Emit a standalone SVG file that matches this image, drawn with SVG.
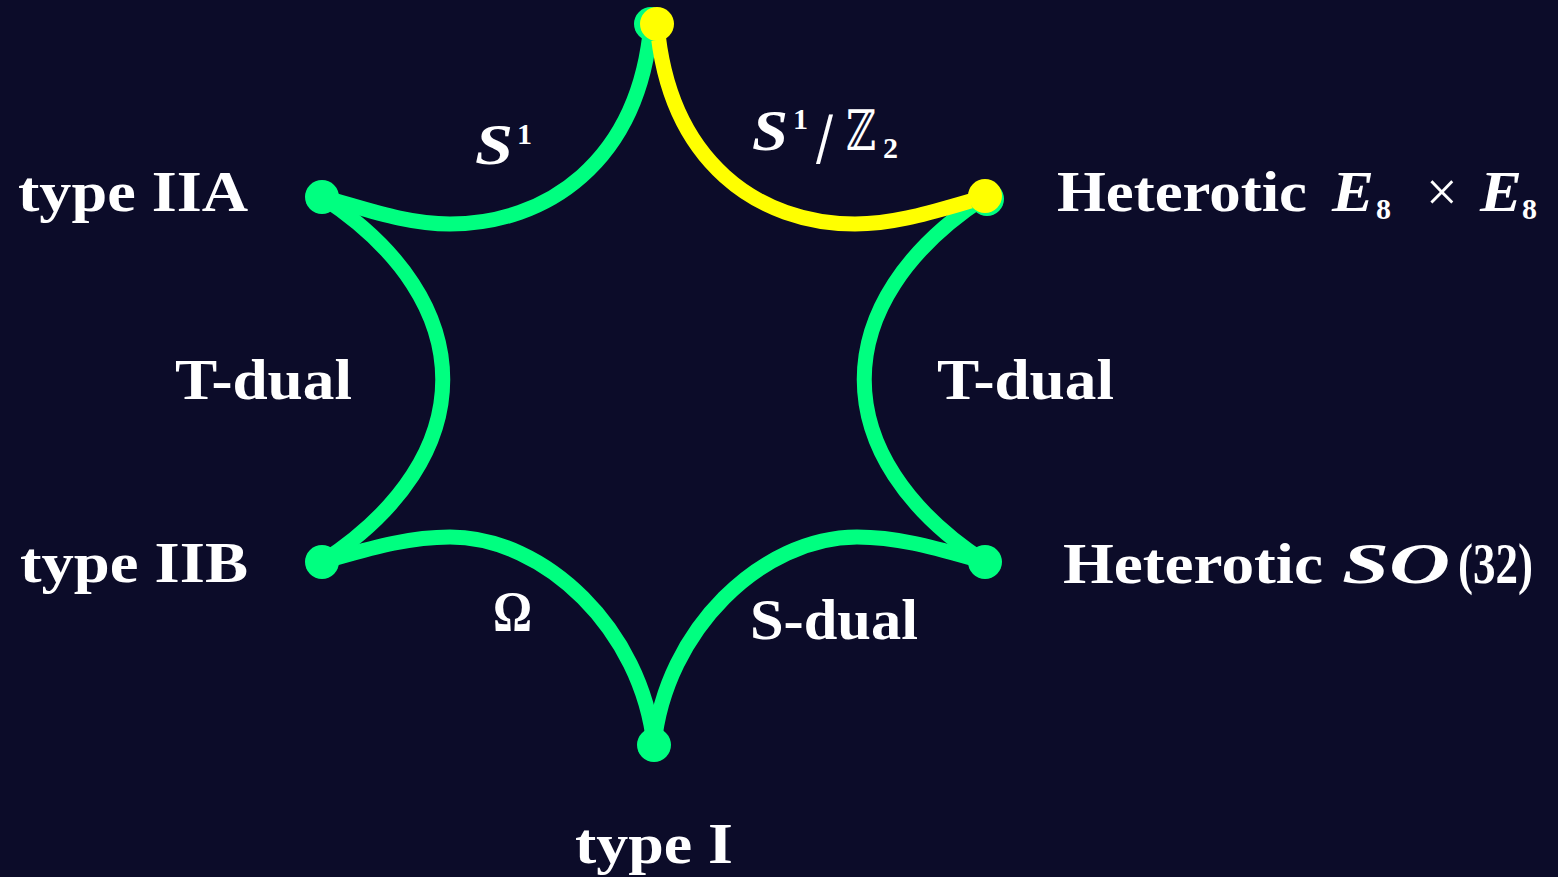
<svg xmlns="http://www.w3.org/2000/svg" width="1558" height="877" viewBox="0 0 1558 877">
<style>
.edge{fill:none;stroke:#00ff80;stroke-width:15;stroke-linecap:round}
.edge.yl{stroke:#ffff00}
.dot{fill:#00ff80}
.dot.yl{fill:#ffff00}
.lbl{font-family:"Liberation Serif","DejaVu Serif",serif;font-weight:bold;font-size:56px;fill:#ffffff}
.math{font-style:italic}
.sub{font-size:30px}
.bb{font-family:"DejaVu Serif","Liberation Serif",serif;font-weight:normal}
</style>
<rect width="1558" height="877" fill="#0c0c29"/>
<g id="connectors">
  <path class="edge" d="M322,197 C365.5,208.7 405,224 450,224 C545,224 638.8,163.5 651,24"/>
  <path class="edge" d="M322,197 C483,302 483,457 322,562"/>
  <path class="edge" d="M985,197 C824,302 824,457 985,562"/>
  <path class="edge" d="M322,562 C365.5,550 405,537 450,537 C545,537 641.8,630 654,745"/>
  <path class="edge" d="M985,562 C941.5,550 902,537 857,537 C762,537 665.2,630 654,745"/>
  <path class="edge yl" d="M657,24 C669,163.5 760,224 855,224 C900,224 941.5,208.7 985,197"/>
</g>
<g id="edge-labels" class="lbl">
  <text x="475" y="164"><tspan class="math" textLength="38" lengthAdjust="spacingAndGlyphs">S</tspan><tspan class="sub" x="517" y="144">1</tspan></text>
  <text x="752" y="150"><tspan class="math" textLength="36" lengthAdjust="spacingAndGlyphs">S</tspan><tspan class="sub" x="793" y="129">1</tspan><tspan class="bb" x="816" y="158" font-size="60" textLength="17" lengthAdjust="spacingAndGlyphs">/</tspan><tspan class="bb" x="846" y="150" textLength="30" lengthAdjust="spacingAndGlyphs">ℤ</tspan><tspan class="sub" x="883" y="158">2</tspan></text>
  <text x="175" y="399" textLength="177" lengthAdjust="spacingAndGlyphs">T-dual</text>
  <text x="937" y="399" textLength="177" lengthAdjust="spacingAndGlyphs">T-dual</text>
  <text x="493" y="631" textLength="39" lengthAdjust="spacingAndGlyphs">Ω</text>
  <text x="750" y="639" textLength="168" lengthAdjust="spacingAndGlyphs">S-dual</text>
</g>
<g id="node-top">
  <circle class="dot" cx="651" cy="24" r="17"/>
  <circle class="dot yl" cx="657" cy="24" r="17"/>
</g>
<g id="node-typeIIA">
  <circle class="dot" cx="322" cy="197" r="17"/>
  <text class="lbl" x="18" y="211" textLength="230" lengthAdjust="spacingAndGlyphs">type IIA</text>
</g>
<g id="node-typeIIB">
  <circle class="dot" cx="322" cy="562" r="17"/>
  <text class="lbl" x="20" y="582" textLength="228" lengthAdjust="spacingAndGlyphs">type IIB</text>
</g>
<g id="node-typeI">
  <circle class="dot" cx="654" cy="745" r="17"/>
  <text class="lbl" x="575" y="863" textLength="158" lengthAdjust="spacingAndGlyphs">type I</text>
</g>
<g id="node-heteroticSO32">
  <circle class="dot" cx="985" cy="562" r="17"/>
  <text class="lbl" x="1063" y="583"><tspan textLength="260" lengthAdjust="spacingAndGlyphs">Heterotic</tspan><tspan class="math" x="1342" textLength="108" lengthAdjust="spacingAndGlyphs">SO</tspan><tspan x="1458" textLength="75" lengthAdjust="spacingAndGlyphs">(32)</tspan></text>
</g>
<g id="node-heteroticE8E8">
  <circle class="dot" cx="987" cy="199" r="17"/>
  <circle class="dot yl" cx="985" cy="196" r="17"/>
  <text class="lbl" x="1057" y="211"><tspan textLength="250" lengthAdjust="spacingAndGlyphs">Heterotic</tspan><tspan class="math" x="1332" textLength="42" lengthAdjust="spacingAndGlyphs">E</tspan><tspan class="sub" x="1376" y="219">8</tspan><tspan x="1426" y="211" font-weight="normal">×</tspan><tspan class="math" x="1480" textLength="42" lengthAdjust="spacingAndGlyphs">E</tspan><tspan class="sub" x="1522" y="219">8</tspan></text>
</g>
</svg>
